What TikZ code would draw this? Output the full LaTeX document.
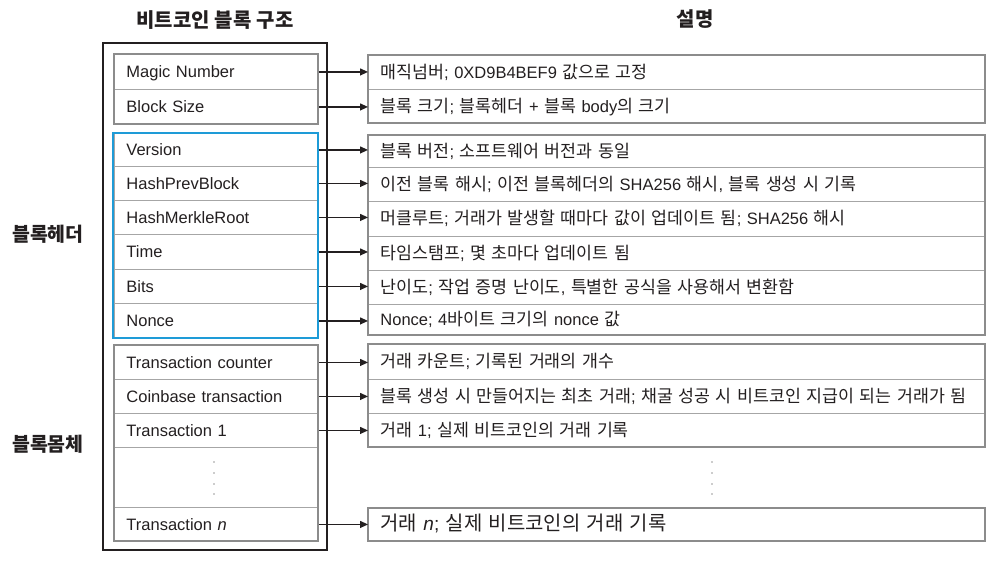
\documentclass[tikz,border=0pt]{standalone}
\usepackage{fontspec}
\setmainfont{Liberation Sans}
\newfontfamily\krfont[Scale=1.05]{Noto Sans CJK KR}
\usetikzlibrary{arrows.meta}
\XeTeXinterchartokenstate=1
\newXeTeXintercharclass\KrClass
\newcount\krc
\krc="AC00
\loop
  \XeTeXcharclass\krc=\KrClass
  \ifnum\krc<"D7A3 \advance\krc by 1
\repeat
\XeTeXinterchartoks 0 \KrClass = {\begingroup\krfont}
\XeTeXinterchartoks 4095 \KrClass = {\begingroup\krfont}
\XeTeXinterchartoks \KrClass 0 = {\endgroup}
\XeTeXinterchartoks \KrClass 4095 = {\endgroup}
\definecolor{ink}{HTML}{231F20}
\definecolor{hblue}{HTML}{1E9BD7}
\definecolor{framegray}{HTML}{8C8C8C}
\definecolor{rowgray}{HTML}{A6A6A6}
\definecolor{dotgray}{HTML}{9A9A9A}
\begin{document}
\begin{tikzpicture}[x=1pt,y=-1pt,
  txt/.style={font=\fontsize{16.5}{19}\selectfont, text=ink},
  lrow/.style={txt, draw=rowgray, line width=0.9pt, anchor=north west, minimum width=204pt,
    text width=180pt, inner xsep=12pt, inner ysep=0pt, align=left, text height=12pt, text depth=0pt},
  rrow/.style={txt, draw=rowgray, line width=0.9pt, anchor=north west, minimum width=617pt,
    text width=593pt, inner xsep=12pt, inner ysep=0pt, align=left, text height=12pt, text depth=0pt},
  title/.style={font=\fontsize{19}{22}\selectfont\bfseries, text=ink, inner sep=0pt},
  side/.style={font=\fontsize{18.5}{22}\selectfont\bfseries, text=ink, inner sep=0pt},
  arr/.style={draw=ink, line width=1.2pt, -{Triangle[length=8pt,width=7pt]}},
]
\useasboundingbox (0,0) rectangle (1005,562);

% titles
\node[title] (t1) at (215,20) {비트코인 블록 구조};
\node[title] (t2) at (695,19) {설명};
\node[side] (s1) at (48,234) {블록헤더};
\node[side] (s2) at (48,444) {블록몸체};

% left rows
\node[lrow, minimum height=35pt] (m1) at (114,54) {Magic Number};
\node[lrow, minimum height=35pt] (m2) at (114,89) {Block Size};
\node[lrow, minimum height=33pt] (h1) at (114,133) {Version};
\node[lrow, minimum height=34pt] (h2) at (114,166) {HashPrevBlock};
\node[lrow, minimum height=34pt] (h3) at (114,200) {HashMerkleRoot};
\node[lrow, minimum height=35pt] (h4) at (114,234) {Time};
\node[lrow, minimum height=34pt] (h5) at (114,269) {Bits};
\node[lrow, minimum height=35pt] (h6) at (114,303) {Nonce};
\node[lrow, minimum height=34pt] (b1) at (114,345) {Transaction counter};
\node[lrow, minimum height=34pt] (b2) at (114,379) {Coinbase transaction};
\node[lrow, minimum height=34pt] (b3) at (114,413) {Transaction 1};
\node[lrow, minimum height=60pt] (b4) at (114,447) {};
\node[lrow, minimum height=34pt] (b5) at (114,507) {Transaction \textit{n}};

% left group frames
\draw[framegray, line width=1.8pt] (114,54) rectangle (318,124);
\draw[hblue, line width=2.4pt] (113,133) rectangle (318,338);
\draw[framegray, line width=1.8pt] (114,345) rectangle (318,541);
\draw[ink, line width=2.8pt] (103,43) rectangle (327,550);

% right rows
\node[rrow, minimum height=34pt] (r1) at (368,55) {매직넘버; 0XD9B4BEF9 값으로 고정};
\node[rrow, minimum height=34pt] (r2) at (368,89) {블록 크기; 블록헤더 + 블록 body의 크기};
\node[rrow, minimum height=32pt] (r3) at (368,135) {블록 버전; 소프트웨어 버전과 동일};
\node[rrow, minimum height=34pt] (r4) at (368,167) {이전 블록 해시; 이전 블록헤더의 SHA256 해시, 블록 생성 시 기록};
\node[rrow, minimum height=35pt] (r5) at (368,201) {머클루트; 거래가 발생할 때마다 값이 업데이트 됨; SHA256 해시};
\node[rrow, minimum height=34pt] (r6) at (368,236) {타임스탬프; 몇 초마다 업데이트 됨};
\node[rrow, minimum height=34pt] (r7) at (368,270) {난이도; 작업 증명 난이도, 특별한 공식을 사용해서 변환함};
\node[rrow, minimum height=31pt] (r8) at (368,304) {Nonce; 4바이트 크기의 nonce 값};
\node[rrow, minimum height=35pt] (r9) at (368,344) {거래 카운트; 기록된 거래의 개수};
\node[rrow, minimum height=34pt] (r10) at (368,379) {\mbox{블록 생성 시 만들어지는 최초 거래; 채굴 성공 시 비트코인 지급이 되는 거래가 됨}};
\node[rrow, minimum height=34pt] (r11) at (368,413) {거래 1; 실제 비트코인의 거래 기록};
\node[rrow, minimum height=33pt, font=\fontsize{19}{21}\selectfont] (r12) at (368,508) {거래 \textit{n}; 실제 비트코인의 거래 기록};

% right group frames
\draw[framegray, line width=1.4pt] (368,55) rectangle (985,123);
\draw[framegray, line width=1.4pt] (368,135) rectangle (985,335);
\draw[framegray, line width=1.4pt] (368,344) rectangle (985,447);
\draw[framegray, line width=1.4pt] (368,508) rectangle (985,541);

% dots
\foreach \yy in {462,473,484,494} {
  \fill[dotgray] (214,\yy) circle (0.9pt);
  \fill[dotgray] (712,\yy) circle (0.9pt);
}

% arrows
\draw[arr] (m1.east) -- (m1.east -| r1.west);
\draw[arr] (m2.east) -- (m2.east -| r2.west);
\draw[arr] (h1.east) -- (h1.east -| r3.west);
\draw[arr] (h2.east) -- (h2.east -| r4.west);
\draw[arr] (h3.east) -- (h3.east -| r5.west);
\draw[arr] (h4.east) -- (h4.east -| r6.west);
\draw[arr] (h5.east) -- (h5.east -| r7.west);
\draw[arr] (h6.east) -- (h6.east -| r8.west);
\draw[arr] (b1.east) -- (b1.east -| r9.west);
\draw[arr] (b2.east) -- (b2.east -| r10.west);
\draw[arr] (b3.east) -- (b3.east -| r11.west);
\draw[arr] (b5.east) -- (b5.east -| r12.west);
\end{tikzpicture}
\end{document}
